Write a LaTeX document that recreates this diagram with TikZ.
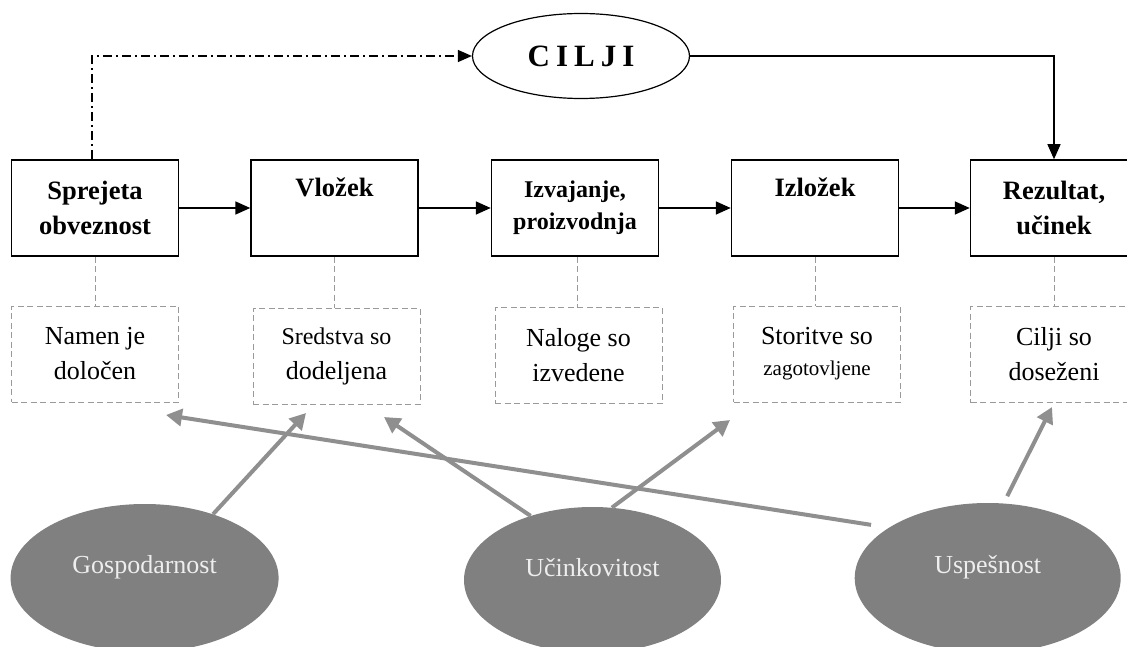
\documentclass[tikz,border=0pt]{standalone}
\usepackage{fontspec}
\setmainfont{Liberation Serif}
\usetikzlibrary{shapes.geometric,arrows.meta}
\definecolor{ovalgrey}{HTML}{808080}
\definecolor{arrowgrey}{HTML}{8F8F8F}
\definecolor{dashgrey}{HTML}{9A9A9A}
\definecolor{ovaltext}{HTML}{EEEEEE}
\begin{document}
\begin{tikzpicture}[x=1pt,y=-1pt,
 stagebox/.style={draw=black, line width=1.5pt, minimum width=167pt, minimum height=96pt, inner sep=0pt, align=center, font=\fontsize{26.5}{35}\selectfont\bfseries},
 notebox/.style={draw=dashgrey, line width=1pt, dash pattern=on 6pt off 3.5pt, minimum width=167pt, minimum height=96pt, inner sep=0pt, align=center, font=\fontsize{26}{35}\selectfont},
 flow/.style={line width=1.8pt, -{Triangle[length=15pt,width=13pt]}},
 link/.style={draw=dashgrey, line width=1pt, dash pattern=on 6pt off 3.5pt},
 measure/.style={ellipse, fill=ovalgrey, inner sep=0pt},
 measuretext/.style={label distance=0pt, text=ovaltext, font=\fontsize{26}{30}\selectfont},
 hint/.style={draw=arrowgrey, line width=4pt, -{Triangle[length=16pt,width=17pt]}},
]
\clip (0,0) rectangle (1127,647);
\fill[white] (0,0) rectangle (1127,647);

% goal
\node[draw, ellipse, line width=1.2pt, minimum width=217pt, minimum height=85pt, inner sep=0pt,
      font=\fontsize{31}{34}\selectfont\bfseries] (goal) at (581,56)
      {C\hspace{6pt}I\hspace{6pt}L\hspace{6pt}J\hspace{6pt}I};

% stages
\node[stagebox] (b1) at (95,208) {Sprejeta\\obveznost};
\node[stagebox] (b2) at (334.5,208) {Vložek\\\phantom{g}};
\node[stagebox, font=\fontsize{24}{33}\selectfont\bfseries] (b3) at (575,208) {Izvajanje,\\[-1pt]proizvodnja};
\node[stagebox] (b4) at (815,208) {Izložek\\\phantom{g}};
\node[stagebox] (b5) at (1054,208) {Rezultat,\\učinek};

% notes
\node[notebox] (n1) at (95,354) {Namen je\\določen};
\node[notebox] (n2) at (336.5,356) {\fontsize{24}{31}\selectfont Sredstva so\\dodeljena};
\node[notebox] (n3) at (578.5,355.5) {Naloge so\\izvedene};
\node[notebox] (n4) at (817,354) {Storitve so\\[-4pt]{\fontsize{21}{31}\selectfont zagotovljene}};
\node[notebox] (n5) at (1054,354.5) {Cilji so\\doseženi};

% measures
\node[measure, minimum width=268pt, minimum height=148pt,
      label={[measuretext, yshift=11pt]center:Gospodarnost}] (gosp) at (144.6,578) {};
\node[measure, minimum width=257pt, minimum height=146pt,
      label={[measuretext, yshift=12pt]center:Učinkovitost}] (ucin) at (592.5,580) {};
\node[measure, minimum width=266pt, minimum height=150pt,
      label={[measuretext, yshift=11pt]center:Uspešnost}] (usp) at (987.7,578) {};

% tips of grey arrows
\coordinate (t1) at (306,413);
\coordinate (t2) at (384,417);
\coordinate (t3) at (730,420);
\coordinate (t4) at (166,415);
\coordinate (t5) at (1052,407);

% flows
\draw[flow] (b1.east) -- (b2.west);
\draw[flow] (b2.east) -- (b3.west);
\draw[flow] (b3.east) -- (b4.west);
\draw[flow] (b4.east) -- (b5.west);
\draw[line width=1.2pt, dash pattern=on 9pt off 4pt on 2pt off 4pt, -{Triangle[length=14pt,width=12pt]}]
  ([xshift=-3pt]b1.north) |- (goal.west);
\draw[flow, line width=1.3pt] (goal.east) -| (b5.north);

% links
\draw[link] (b1.south) -- (n1.north);
\draw[link] (b2.south) -- (b2.south |- n2.north);
\draw[link] ([xshift=2pt]b3.south) -- ([xshift=2pt]b3.south |- n3.north);
\draw[link] (b4.south) -- (b4.south |- n4.north);
\draw[link] (b5.south) -- (n5.north);

% grey arrows
\draw[hint] (gosp.43) -- (t1);
\draw[hint] (ucin.134) -- (t2);
\draw[hint] (ucin.75) -- (t3);
\draw[hint, shorten <=18pt] (usp.153) -- (t4);
\draw[hint, shorten <=8pt] (usp.78) -- (t5);
\end{tikzpicture}
\end{document}
